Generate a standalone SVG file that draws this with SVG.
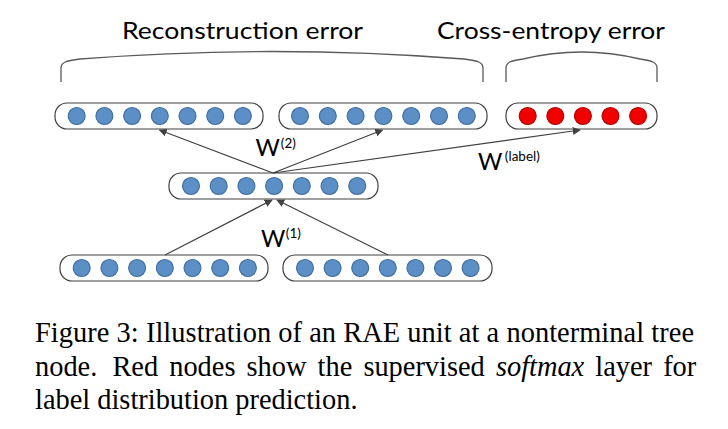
<svg xmlns="http://www.w3.org/2000/svg" width="728" height="429" viewBox="0 0 728 429">
<defs>
<style>
.box{fill:#fff;stroke:#404040;stroke-width:1.2}
.b{fill:#5b8fc6;stroke:#3f6e9e;stroke-width:1.1}
.r{fill:#f00000;stroke:#b00000;stroke-width:1.1}
.br{fill:none;stroke:#5a5a5a;stroke-width:1.3}
.ar{fill:none;stroke:#404040;stroke-width:1.2;marker-end:url(#ah)}
.t{font-family:Lato,"Open Sans",sans-serif;fill:#000}
.w{font-family:Lato,"Open Sans",sans-serif;fill:#000;font-size:23.5px}
.sup{font-size:13.5px}
.cap{font-family:"Liberation Serif","Times New Roman",serif;font-size:28.4px;fill:#000}
</style>
<marker id="ah" viewBox="0 0 10 10" refX="9" refY="5" markerWidth="8" markerHeight="8" markerUnits="userSpaceOnUse" orient="auto">
<path d="M0,0 L10,5 L0,10 Z" fill="#404040"/>
</marker>
</defs>
<g id="labels">
<text class="t" x="122" y="39" font-size="23.5" textLength="241" lengthAdjust="spacingAndGlyphs">Reconstruction error</text>
<text class="t" x="437" y="39" font-size="23.5" textLength="228" lengthAdjust="spacingAndGlyphs">Cross-entropy error</text>
<path class="br" d="M61,82 V68 C61,62 66,61 80,59 Q272,44 464,59 C478,61 483,62 483,68 V82"/>
<path class="br" d="M506,82 V68 C506,62 511,61 523,59 Q581.5,45 640,59 C652,61 657,62 657,68 V82"/>
</g>
<g id="top-left">
<rect class="box" x="55" y="103" width="208" height="26" rx="12"/>
<circle class="b" cx="76.7" cy="116" r="8.5"/><circle class="b" cx="104.4" cy="116" r="8.5"/><circle class="b" cx="132.1" cy="116" r="8.5"/><circle class="b" cx="159.8" cy="116" r="8.5"/><circle class="b" cx="187.5" cy="116" r="8.5"/><circle class="b" cx="215.2" cy="116" r="8.5"/><circle class="b" cx="242.9" cy="116" r="8.5"/>
</g>
<g id="top-right">
<rect class="box" x="279" y="103" width="208" height="26" rx="12"/>
<circle class="b" cx="300" cy="116" r="8.5"/><circle class="b" cx="327.8" cy="116" r="8.5"/><circle class="b" cx="355.6" cy="116" r="8.5"/><circle class="b" cx="383.4" cy="116" r="8.5"/><circle class="b" cx="411.2" cy="116" r="8.5"/><circle class="b" cx="439" cy="116" r="8.5"/><circle class="b" cx="466.8" cy="116" r="8.5"/>
</g>
<g id="softmax">
<rect class="box" x="506" y="103" width="151" height="26" rx="12"/>
<circle class="r" cx="527.7" cy="116" r="8.5"/><circle class="r" cx="555.3" cy="116" r="8.5"/><circle class="r" cx="582.9" cy="116" r="8.5"/><circle class="r" cx="610.5" cy="116" r="8.5"/><circle class="r" cx="638.1" cy="116" r="8.5"/>
</g>
<g id="parent">
<rect class="box" x="169" y="173" width="209" height="26" rx="12"/>
<circle class="b" cx="191" cy="186" r="8.5"/><circle class="b" cx="218.7" cy="186" r="8.5"/><circle class="b" cx="246.4" cy="186" r="8.5"/><circle class="b" cx="274.1" cy="186" r="8.5"/><circle class="b" cx="301.8" cy="186" r="8.5"/><circle class="b" cx="329.5" cy="186" r="8.5"/><circle class="b" cx="357.2" cy="186" r="8.5"/>
</g>
<g id="child-left">
<rect class="box" x="60" y="255" width="208" height="26" rx="12"/>
<circle class="b" cx="81.7" cy="268" r="8.5"/><circle class="b" cx="109.4" cy="268" r="8.5"/><circle class="b" cx="137.1" cy="268" r="8.5"/><circle class="b" cx="164.8" cy="268" r="8.5"/><circle class="b" cx="192.5" cy="268" r="8.5"/><circle class="b" cx="220.2" cy="268" r="8.5"/><circle class="b" cx="247.9" cy="268" r="8.5"/>
</g>
<g id="child-right">
<rect class="box" x="283" y="255" width="209" height="26" rx="12"/>
<circle class="b" cx="305" cy="268" r="8.5"/><circle class="b" cx="332.6" cy="268" r="8.5"/><circle class="b" cx="360.2" cy="268" r="8.5"/><circle class="b" cx="387.8" cy="268" r="8.5"/><circle class="b" cx="415.4" cy="268" r="8.5"/><circle class="b" cx="443" cy="268" r="8.5"/><circle class="b" cx="470.6" cy="268" r="8.5"/>
</g>
<g id="connectors">
<line class="ar" x1="273" y1="173" x2="159.5" y2="130"/>
<line class="ar" x1="273" y1="173" x2="382.5" y2="130"/>
<line class="ar" x1="273" y1="173" x2="580" y2="130"/>
<line class="ar" x1="165" y1="255" x2="272" y2="200"/>
<line class="ar" x1="388" y1="255" x2="277" y2="200"/>
</g>
<g id="weights">
<text class="w" x="255.5" y="156">W<tspan class="sup" dx="1" dy="-8">(2)</tspan></text>
<text class="w" x="478" y="169.5">W<tspan class="sup" dx="2.5" dy="-9">(label)</tspan></text>
<text class="w" x="261" y="246.7">W<tspan class="sup" dx="0.5" dy="-8.7">(1)</tspan></text>
</g>
<g id="caption">
<text class="cap" x="35" y="342" textLength="659" lengthAdjust="spacing">Figure 3: Illustration of an RAE unit at a nonterminal tree</text>
<text class="cap" x="35" y="375.5" word-spacing="4">node. <tspan dx="4">Red</tspan> nodes show the supervised <tspan font-style="italic">softmax</tspan> layer for</text>
<text class="cap" x="35" y="409">label distribution prediction.</text>
</g>
</svg>
